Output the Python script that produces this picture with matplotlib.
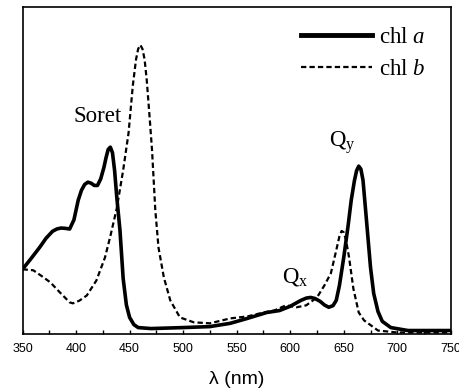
import matplotlib
matplotlib.use("Agg")
import matplotlib.pyplot as plt

plt.rcParams["mathtext.fontset"] = "custom"
plt.rcParams["mathtext.rm"] = "Liberation Serif"
plt.rcParams["mathtext.it"] = "Liberation Serif:italic"

# Wavelength (nm) and relative absorbance
wl_a = [350, 358, 366, 372, 378, 382, 386, 390, 394, 398, 402, 405, 408, 411, 414, 417, 420, 423,
        426, 428, 430, 432, 434, 436, 438, 441, 444, 447, 450, 454, 458, 470, 500, 525, 544,
        560, 578, 590, 600, 610, 615, 619, 623, 628, 632, 636, 640, 643, 646, 650, 654, 657,
        660, 662, 664, 666, 668, 671, 675, 678, 682, 686, 694, 710, 750]
abs_a = [0.199, 0.232, 0.266, 0.294, 0.315, 0.322, 0.325, 0.324, 0.322, 0.350, 0.410, 0.440,
         0.458, 0.465, 0.462, 0.455, 0.455, 0.475, 0.510, 0.540, 0.565, 0.572, 0.555, 0.500,
         0.420, 0.318, 0.170, 0.090, 0.052, 0.030, 0.021, 0.018, 0.021, 0.024, 0.034, 0.049,
         0.067, 0.073, 0.086, 0.104, 0.111, 0.113, 0.110, 0.101, 0.090, 0.083, 0.088, 0.104,
         0.150, 0.235, 0.330, 0.410, 0.470, 0.500, 0.514, 0.505, 0.471, 0.358, 0.205, 0.125,
         0.070, 0.040, 0.021, 0.012, 0.012]

wl_b = [350, 360, 368, 376, 385, 394, 397, 403, 410, 419, 427, 432, 438, 444, 449, 453, 456, 458,
        460, 462, 464, 466, 469, 471, 474, 477, 482, 488, 497, 510, 525, 544, 560, 575, 585,
        596, 606, 615, 625, 632, 638, 643, 646, 648, 650, 652, 655, 659, 664, 669, 682, 700, 750]
abs_b = [0.199, 0.196, 0.178, 0.159, 0.128, 0.098, 0.095, 0.103, 0.119, 0.165, 0.235, 0.300,
         0.385, 0.502, 0.615, 0.760, 0.840, 0.872, 0.884, 0.872, 0.840, 0.777, 0.650, 0.560,
         0.380, 0.265, 0.174, 0.104, 0.052, 0.037, 0.034, 0.049, 0.055, 0.067, 0.073, 0.089,
         0.083, 0.089, 0.113, 0.150, 0.187, 0.257, 0.300, 0.316, 0.312, 0.290, 0.235, 0.140,
         0.067, 0.043, 0.012, 0.006, 0.006]

labels = ["chl $a$", "chl $b$"]
xticks = [350, 400, 450, 500, 550, 600, 650, 700, 750]

fig = plt.figure(figsize=(4.6, 3.88), dpi=100)
ax = fig.add_axes([0.049, 0.138, 0.931, 0.844])

ax.plot(wl_a, abs_a, color="black", lw=2.6, solid_joinstyle="round", label=labels[0])
ax.plot(wl_b, abs_b, color="black", lw=1.6, linestyle=(0, (2.4, 1.4)), label=labels[1])

ax.set_xlim(350, 750)
ax.set_ylim(0, 1.0)
ax.set_xticks(xticks)
ax.set_xticks(range(375, 750, 50), minor=True)
ax.set_yticks([])
ax.tick_params(axis="x", which="both", direction="in", length=3, width=1, labelsize=9, pad=6)
for lab in ax.get_xticklabels():
    lab.set_family("Liberation Sans")
for s in ax.spines.values():
    s.set_linewidth(1.2)

ax.set_xlabel("λ (nm)", fontsize=14, family="Liberation Sans", labelpad=12)

serif = "Liberation Serif"
fs = 16.5
ax.text(420, 0.65, "Soret", fontsize=fs, family=serif, ha="center", va="baseline")
ax.text(636, 0.572, "Q$_\\mathrm{y}$", fontsize=fs, family=serif, ha="left", va="baseline")
ax.text(592, 0.159, "Q$_\\mathrm{x}$", fontsize=fs, family=serif, ha="left", va="baseline")

leg = ax.legend(loc="upper right", bbox_to_anchor=(0.94, 0.938), frameon=False,
                handlelength=3.1, handletextpad=0.3, labelspacing=0.45,
                borderaxespad=0, borderpad=0,
                prop={"family": serif, "size": fs})
leg.get_lines()[0].set_linewidth(3.5)

fig.savefig("out.png", dpi=100)
